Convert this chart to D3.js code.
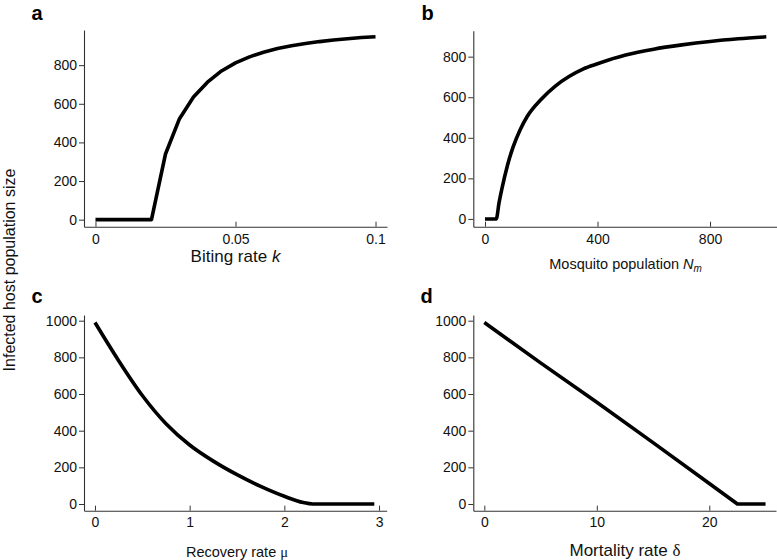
<!DOCTYPE html>
<html><head><meta charset="utf-8">
<script src="https://cdn.jsdelivr.net/npm/d3@7"></script>
<style>
body{margin:0;background:#fff}
svg{display:block}
text{font-family:"Liberation Sans",Arial,Helvetica,sans-serif}
</style>
</head><body>
<svg id="chart" width="777" height="560"></svg>
<script>
// ---- data ----
const yTicksTop = [0, 200, 400, 600, 800];
const yTicksBottom = [0, 200, 400, 600, 800, 1000];

const bitingRate = [0,0.005,0.01,0.015,0.02,0.025,0.03,0.035,0.04,0.045,0.05,0.055,0.06,0.065,0.07,0.075,0.08,0.085,0.09,0.095,0.1];
const infectedA  = [0,0,0,0,0,340,523,635,712,770,812,843,867,886,900,912,922,930,937,943,947];
const xTicksA = [0, 0.05, 0.1];

const mosquitoPop = [0,20,40,50,60,80,100,125,150,200,250,300,350,400,500,600,700,800,900,1000];
const infectedB   = [0,0,0,80,148,265,355,440,505,590,655,703,740,765,808,837,858,875,888,898];
const xTicksB = [0, 400, 800];

const recoveryRate = [0,0.25,0.5,0.75,1,1.25,1.5,1.75,2,2.2,2.3,2.5,2.75,2.95];
const infectedC    = [990,782,592,438,322,234,160,96,42,8,0,0,0,0];
const xTicksC = [0, 1, 2, 3];

const mortalityRate = [0,5,10,15,20,22.5,25];
const infectedD     = [990,770,555,335,112,0,0];
const xTicksD = [0, 10, 20];

// ---- layout ----
const svg = d3.select("#chart");
const panels = [
  {letter:"a", lx:31.5, ly:20, xs:bitingRate, ys:infectedA, xTicks:xTicksA, yTicks:yTicksTop,
   xDomain:[-0.0041,0.1041], xRange:[84,387], yDomain:[-36.4,982], yRange:[226.7,30], xPad:7,
   curve:d3.curveLinear},
  {letter:"b", lx:421.5, ly:20, xs:mosquitoPop, ys:infectedB, xTicks:xTicksB, yTicks:yTicksTop,
   xDomain:[-41.6,1037], xRange:[473.3,776.7], yDomain:[-38.3,928], yRange:[226.7,30.7], xPad:7,
   curve:d3.curveMonotoneX},
  {letter:"c", lx:31.5, ly:303, xs:recoveryRate, ys:infectedC, xTicks:xTicksC, yTicks:yTicksBottom,
   xDomain:[-0.116,3.081], xRange:[84,386.7], yDomain:[-36.5,1031], yRange:[510.7,315], xPad:6,
   curve:d3.curveMonotoneX},
  {letter:"d", lx:420.5, ly:303, xs:mortalityRate, ys:infectedD, xTicks:xTicksD, yTicks:yTicksBottom,
   xDomain:[-0.98,25.93], xRange:[473.3,776], yDomain:[-36.5,1031], yRange:[510.7,315], xPad:6,
   curve:d3.curveLinear}
];

const axisColor = "#333";

panels.forEach(p => {
  const x = d3.scaleLinear().domain(p.xDomain).range(p.xRange);
  const y = d3.scaleLinear().domain(p.yDomain).range(p.yRange);
  const g = svg.append("g");

  const gx = g.append("g")
    .attr("transform", `translate(0,${p.yRange[0]})`)
    .call(d3.axisBottom(x).tickValues(p.xTicks).tickSizeInner(-5).tickSizeOuter(0)
      .tickPadding(p.xPad).tickFormat(d => String(d)));
  const gy = g.append("g")
    .attr("transform", `translate(${p.xRange[0]},0)`)
    .call(d3.axisLeft(y).tickValues(p.yTicks).tickSizeInner(5).tickSizeOuter(0)
      .tickPadding(2).tickFormat(d => String(d)));

  [gx, gy].forEach(a => {
    a.attr("font-family", null).attr("font-size", null);
    a.select(".domain").attr("stroke", axisColor).attr("stroke-width", 1.1);
    a.selectAll(".tick line").attr("stroke", axisColor).attr("stroke-width", 1);
    a.selectAll(".tick text").attr("fill", "#111").style("font-size", "14px");
  });

  const line = d3.line().x((d, i) => x(p.xs[i])).y((d, i) => y(p.ys[i])).curve(p.curve);
  g.append("path")
    .attr("d", line(p.xs))
    .attr("fill", "none")
    .attr("stroke", "#000")
    .attr("stroke-width", 3.6)
    .attr("stroke-linejoin", "round");

  svg.append("text")
    .attr("x", p.lx).attr("y", p.ly)
    .style("font-size", "20px").style("font-weight", "bold")
    .text(p.letter);
});

// axis titles
const t1 = svg.append("text").attr("x", 235.5).attr("y", 262).attr("text-anchor", "middle")
  .style("font-size", "17px").attr("fill", "#111");
t1.append("tspan").text("Biting rate ");
t1.append("tspan").style("font-style", "italic").text("k");

const t2 = svg.append("text").attr("x", 625.6).attr("y", 269).attr("text-anchor", "middle")
  .style("font-size", "14.5px").attr("fill", "#111");
t2.append("tspan").text("Mosquito population ");
t2.append("tspan").style("font-style", "italic").text("N");
t2.append("tspan").style("font-style", "italic").style("font-size", "10px").attr("dy", 3).text("m");

const t3 = svg.append("text").attr("x", 237).attr("y", 557).attr("text-anchor", "middle")
  .style("font-size", "14.5px").attr("fill", "#111");
t3.append("tspan").text("Recovery rate ");
t3.append("tspan").style("font-family", "'Liberation Serif','Times New Roman',serif").text("μ");

const t4 = svg.append("text").attr("x", 625).attr("y", 555.5).attr("text-anchor", "middle")
  .style("font-size", "17px").attr("fill", "#111");
t4.append("tspan").text("Mortality rate ");
t4.append("tspan").style("font-family", "'Liberation Serif','Times New Roman',serif").text("δ");

svg.append("text")
  .attr("transform", "translate(15,270) rotate(-90)")
  .attr("text-anchor", "middle")
  .style("font-size", "16px").attr("fill", "#111")
  .text("Infected host population size");
</script>
</body></html>
